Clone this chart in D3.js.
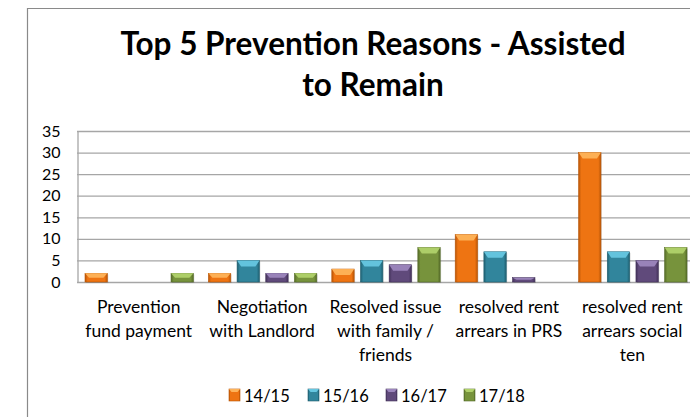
<!DOCTYPE html>
<html>
<head>
<meta charset="utf-8">
<script src="https://cdn.jsdelivr.net/npm/d3@7"></script>
<style>
  html, body { margin: 0; padding: 0; background: #fff; }
  svg { display: block; }
  text { font-family: Lato, "Open Sans", sans-serif; fill: #000; }
</style>
</head>
<body>
<svg id="chart" width="690" height="417"></svg>
<script>
// Category labels (line breaks as shown under the axis)
const categories = [
  "Prevention\nfund payment",
  "Negotiation\nwith Landlord",
  "Resolved issue\nwith family /\nfriends",
  "resolved rent\narrears in PRS",
  "resolved rent\narrears social\nten"
];
const seriesNames = ["14/15", "15/16", "16/17", "17/18"];
const values1415 = [2, 2, 3, 11, 30];
const values1516 = [0, 5, 5, 7, 7];
const values1617 = [0, 2, 4, 1, 5];
const values1718 = [2, 2, 8, 0, 8];
const yTicks = [0, 5, 10, 15, 20, 25, 30, 35];
const titleLines = ["Top 5 Prevention Reasons - Assisted", "to Remain"];

const seriesValues = [values1415, values1516, values1617, values1718];
const baseColors = ["#EE7412", "#31859C", "#604A7B", "#77933C"];
const lightColors = ["#FDB35A", "#66C6E0", "#9C86BD", "#B0D16A"];
const darkColors  = ["#B85506", "#1F5F70", "#43325A", "#556B28"];

const svg = d3.select("#chart");
const defs = svg.append("defs");

// Horizontal shading per series: darker edges, brighter middle
baseColors.forEach((c, i) => {
  const g = defs.append("linearGradient")
    .attr("id", "side" + i).attr("x1", "0").attr("x2", "1").attr("y1", "0").attr("y2", "0");
  g.append("stop").attr("offset", "0").attr("stop-color", darkColors[i]);
  g.append("stop").attr("offset", "0.12").attr("stop-color", c);
  g.append("stop").attr("offset", "0.88").attr("stop-color", c);
  g.append("stop").attr("offset", "1").attr("stop-color", darkColors[i]);
});

// Outer frame of the chart area
svg.append("path")
  .attr("d", "M27.5,417 L27.5,8.5 L690,8.5")
  .attr("fill", "none").attr("stroke", "#8a8a8a").attr("stroke-width", 1.2);

// Title
svg.append("g").selectAll("text").data(titleLines).join("text")
  .attr("x", 373).attr("y", (d, i) => 55 + i * 41)
  .attr("text-anchor", "middle")
  .attr("font-size", 31.5).attr("font-weight", 700)
  .text(d => d);

const plotLeft = 77, plotRight = 694, plotTop = 131, plotBottom = 282;

const y = d3.scaleLinear().domain([0, 35]).range([plotBottom, plotTop]);
const x0 = d3.scaleBand().domain(categories).range([plotLeft, plotRight]).padding(0);
const x1 = d3.scaleBand().domain(seriesNames)
  .range([8, x0.bandwidth() - 7]).paddingInner(0.22).paddingOuter(0);

// Gridlines
svg.append("g").selectAll("line").data(yTicks).join("line")
  .attr("x1", plotLeft).attr("x2", plotRight)
  .attr("y1", d => y(d) + 0.5).attr("y2", d => y(d) + 0.5)
  .attr("stroke", "#a6a6a6").attr("stroke-width", 1.3);

// Y axis
const yAxis = svg.append("g")
  .attr("transform", `translate(${plotLeft + 0.5},0)`)
  .call(d3.axisLeft(y).tickValues(yTicks).tickSize(0).tickPadding(17));
yAxis.select(".domain").attr("stroke", "#a6a6a6").attr("stroke-width", 1.3);
yAxis.selectAll("text").attr("font-size", 16).attr("fill", "#000")
  .attr("font-family", "Lato, sans-serif");

// Bars
const groups = svg.append("g").selectAll("g").data(categories).join("g")
  .attr("transform", d => `translate(${x0(d)},0)`);

groups.each(function(cat, ci) {
  const g = d3.select(this);
  seriesNames.forEach((s, si) => {
    const v = seriesValues[si][ci];
    if (!v) return;
    const bx = x1(s), bw = x1.bandwidth();
    const top = y(v), h = y(0) - y(v);
    // soft shadow
    g.append("rect").attr("x", bx + 1).attr("y", top + 1).attr("width", bw).attr("height", h)
      .attr("fill", "#000").attr("opacity", 0.12);
    g.append("rect").attr("x", bx).attr("y", top).attr("width", bw).attr("height", h)
      .attr("fill", `url(#side${si})`).attr("stroke", darkColors[si]).attr("stroke-width", 0.6);
    // bevelled top face
    const bh = Math.min(6, h / 2);
    const inset = Math.min(4, bw / 4);
    g.append("path")
      .attr("d", `M${bx},${top} L${bx + bw},${top} L${bx + bw - inset},${top + bh} L${bx + inset},${top + bh} Z`)
      .attr("fill", lightColors[si]).attr("opacity", 0.95);
  });
});

// Category labels
const catLabels = svg.append("g");
categories.forEach(cat => {
  const lines = cat.split("\n");
  const cx = x0(cat) + x0.bandwidth() / 2;
  const t = catLabels.append("text")
    .attr("x", cx).attr("y", 313)
    .attr("text-anchor", "middle").attr("font-size", 17.5).attr("fill", "#111");
  lines.forEach((ln, i) => {
    t.append("tspan").attr("x", cx).attr("dy", i === 0 ? 0 : 24).text(ln);
  });
});

// Legend
const legendX = [229, 308, 386, 464];
const legend = svg.append("g").selectAll("g").data(seriesNames).join("g")
  .attr("transform", (d, i) => `translate(${legendX[i]},389)`);
legend.append("rect").attr("width", 11).attr("height", 12)
  .attr("fill", (d, i) => `url(#side${i})`)
  .attr("stroke", (d, i) => darkColors[i]).attr("stroke-width", 0.6);
legend.append("path").attr("d", "M0,0 L11,0 L8.5,3 L2.5,3 Z")
  .attr("fill", (d, i) => lightColors[i]);
legend.append("text").attr("x", 15).attr("y", 12.5).attr("font-size", 16.5).text(d => d);
</script>
</body>
</html>
